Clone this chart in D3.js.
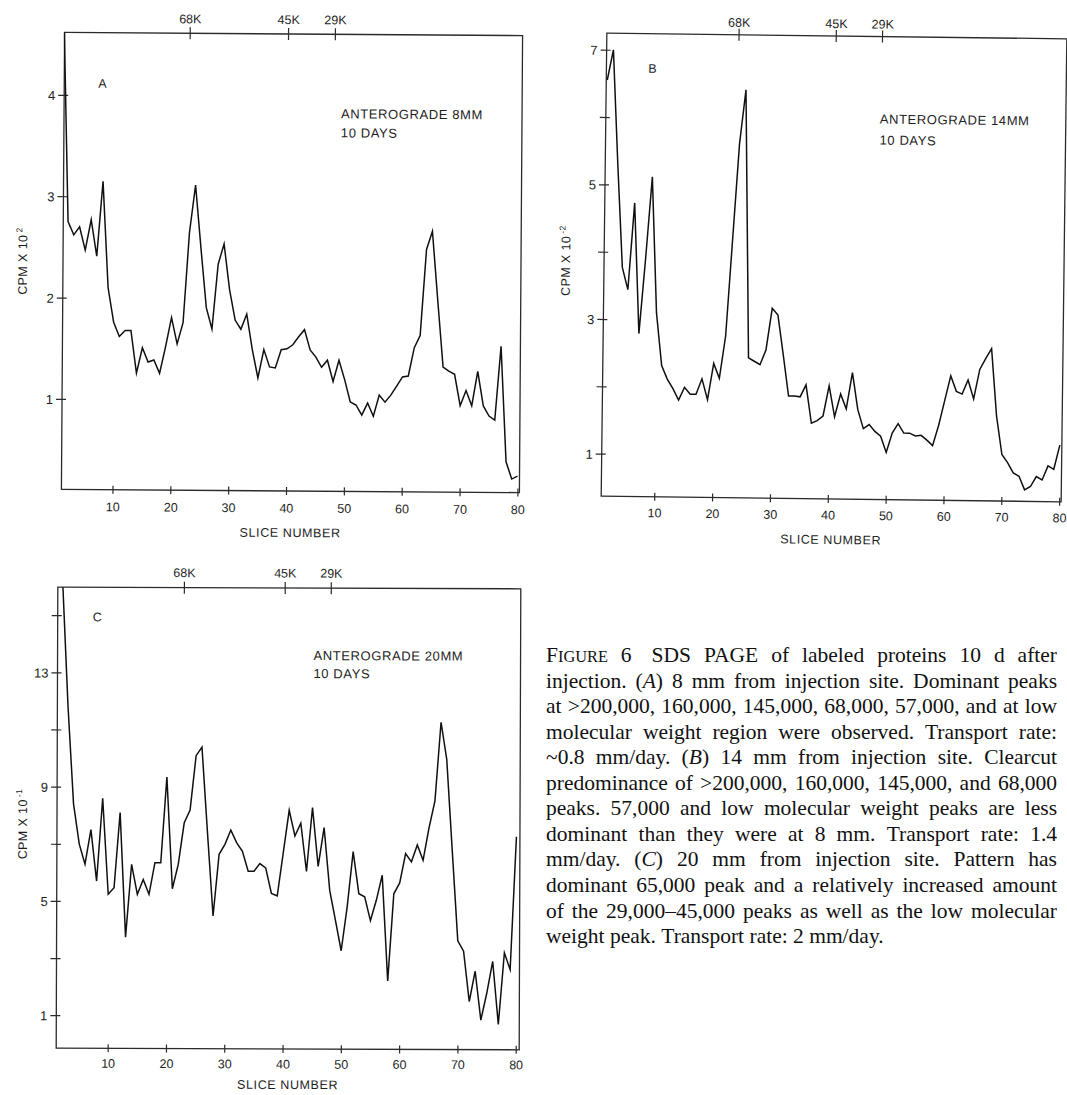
<!DOCTYPE html>
<html>
<head>
<meta charset="utf-8">
<script src="https://cdn.jsdelivr.net/npm/d3@7"></script>
<style>
  html, body { margin: 0; padding: 0; background: #ffffff; }
  svg { display: block; }
</style>
</head>
<body>
<svg id="fig" width="1067" height="1095"></svg>
<script>
// ---- data -------------------------------------------------------------
const sliceNumbers = [
  1, 2, 3, 4, 5, 6, 7, 8, 9, 10, 11, 12, 13, 14, 15, 16, 17, 18, 19, 20,
  21, 22, 23, 24, 25, 26, 27, 28, 29, 30, 31, 32, 33, 34, 35, 36, 37, 38, 39, 40,
  41, 42, 43, 44, 45, 46, 47, 48, 49, 50, 51, 52, 53, 54, 55, 56, 57, 58, 59, 60,
  61, 62, 63, 64, 65, 66, 67, 68, 69, 70, 71, 72, 73, 74, 75, 76, 77, 78, 79, 80
];

// (A) anterograde 8 mm, CPM x 10^2
const cpmA = [
  4.90, 2.75, 2.62, 2.70, 2.47, 2.77, 2.41, 3.15, 2.10, 1.76,
  1.62, 1.68, 1.68, 1.26, 1.51, 1.37, 1.39, 1.26, 1.52, 1.81,
  1.55, 1.76, 2.65, 3.12, 2.50, 1.91, 1.70, 2.34, 2.54, 2.09,
  1.79, 1.70, 1.85, 1.50, 1.22, 1.50, 1.33, 1.32, 1.50, 1.51,
  1.55, 1.63, 1.70, 1.50, 1.43, 1.33, 1.40, 1.19, 1.40, 1.21,
  0.99, 0.96, 0.86, 0.98, 0.85, 1.06, 0.99, 1.06, 1.15, 1.24,
  1.25, 1.53, 1.65, 2.50, 2.68, 2.00, 1.34, 1.30, 1.27, 0.96,
  1.11, 0.96, 1.30, 0.96, 0.86, 0.82, 1.55, 0.41, 0.24, 0.27
];

// (B) anterograde 14 mm
const cpmB = [
  6.55, 7.00, 5.30, 3.77, 3.44, 4.73, 2.79, 3.90, 5.12, 3.10,
  2.32, 2.12, 1.98, 1.81, 2.00, 1.90, 1.90, 2.13, 1.82, 2.36,
  2.14, 2.77, 4.20, 5.63, 6.43, 2.45, 2.40, 2.35, 2.57, 3.19,
  3.09, 2.50, 1.89, 1.89, 1.88, 2.06, 1.49, 1.53, 1.60, 2.05,
  1.59, 1.93, 1.71, 2.25, 1.70, 1.42, 1.48, 1.38, 1.31, 1.07,
  1.36, 1.50, 1.36, 1.36, 1.32, 1.33, 1.26, 1.18, 1.48, 1.85,
  2.22, 1.99, 1.95, 2.16, 1.88, 2.32, 2.48, 2.63, 1.63, 1.06,
  0.94, 0.79, 0.74, 0.54, 0.59, 0.74, 0.69, 0.90, 0.85, 1.21
];

// (C) anterograde 20 mm
const cpmC = [
  17.0, 16.2, 11.8, 8.40, 7.00, 6.29, 7.50, 5.70, 8.60, 5.24,
  5.47, 8.10, 3.74, 6.29, 5.24, 5.76, 5.24, 6.35, 6.35, 9.35,
  5.44, 6.29, 7.75, 8.20, 10.1, 10.4, 7.40, 4.49, 6.65, 7.00,
  7.50, 7.06, 6.76, 6.06, 6.06, 6.33, 6.18, 5.29, 5.20, 6.70,
  8.20, 7.30, 7.75, 6.06, 8.30, 6.24, 7.60, 5.40, 4.35, 3.29,
  4.82, 6.76, 5.29, 5.18, 4.35, 5.06, 5.94, 2.24, 5.29, 5.67,
  6.70, 6.41, 7.00, 6.47, 7.60, 8.55, 11.3, 10.0, 6.80, 3.65,
  3.29, 1.53, 2.59, 0.88, 1.82, 2.94, 0.73, 3.24, 2.65, 7.30
];

const sliceTicks = [10, 20, 30, 40, 50, 60, 70, 80];

// molecular-weight markers along the top edge (slice positions)
const markerLabels = ["68K", "45K", "29K"];
const markerSlicesA = [22.8, 39.8, 47.9];
const markerSlicesB = [23.6, 40.4, 48.4];
const markerSlicesC = [22.8, 40.1, 48.0];

const yTicksA = [1, 2, 3, 4];
const yLabelsA = ["1", "2", "3", "4"];
const yTicksB = [1, 2, 3, 4, 5, 6, 7];
const yLabelsB = ["1", "", "3", "", "5", "", "7"];
const yTicksC = [1, 3, 5, 7, 9, 11, 13, 15];
const yLabelsC = ["1", "", "5", "", "9", "", "13", ""];

const panelLetters = ["A", "B", "C"];
const conditionA = ["ANTEROGRADE 8MM", "10 DAYS"];
const conditionB = ["ANTEROGRADE 14MM", "10 DAYS"];
const conditionC = ["ANTEROGRADE 20MM", "10 DAYS"];
const yExponents = ["2", "-2", "-1"];
const xTitle = "SLICE NUMBER";

const captionLines = [
  "F^IGURE^ 6  SDS PAGE of labeled proteins 10 d after",
  "injection. (*A*) 8 mm from injection site. Dominant peaks",
  "at >200,000, 160,000, 145,000, 68,000, 57,000, and at low",
  "molecular weight region were observed. Transport rate:",
  "~0.8 mm/day. (*B*) 14 mm from injection site. Clearcut",
  "predominance of >200,000, 160,000, 145,000, and 68,000",
  "peaks. 57,000 and low molecular weight peaks are less",
  "dominant than they were at 8 mm. Transport rate: 1.4",
  "mm/day. (*C*) 20 mm from injection site. Pattern has",
  "dominant 65,000 peak and a relatively increased amount",
  "of the 29,000\u201345,000 peaks as well as the low molecular",
  "weight peak. Transport rate: 2 mm/day."
];

// ---- drawing ----------------------------------------------------------
const SANS = "'Liberation Sans', Arial, Helvetica, sans-serif";
const SERIF = "'Liberation Serif', 'Times New Roman', serif";
const TEXT_INK = "#1e1e1e";
const FRAME_INK = "#2b2b2b";
const LINE_INK = "#101010";

const svg = d3.select("#fig");

const panels = [
  {
    letter: panelLetters[0], values: cpmA, markers: markerSlicesA,
    yTicks: yTicksA, yLabels: yLabelsA, exp: yExponents[0], note: conditionA,
    frame: { l: 63, r: 521, t: 34, b: 491 }, xRange: [62, 519],
    yDomain: [1, 4], yRange: [400.5, 96.5], rot: 0.4,
    letterAt: [97, 89], noteAt: [340, 118], noteGap: 19,
    markerY: 24, tickLabelY: 512.5, titleY: 537, yTitleAt: [27, 263]
  },
  {
    letter: panelLetters[1], values: cpmB, markers: markerSlicesB,
    yTicks: yTicksB, yLabels: yLabelsB, exp: yExponents[1], note: conditionB,
    frame: { l: 604, r: 1064, t: 36, b: 499 }, xRange: [605, 1062],
    yDomain: [1, 7], yRange: [456.5, 52.5], rot: 0.7,
    letterAt: [646, 75], noteAt: [878, 123], noteGap: 21,
    markerY: 28, tickLabelY: 519.5, titleY: 544, yTitleAt: [570, 264]
  },
  {
    letter: panelLetters[2], values: cpmC, markers: markerSlicesC,
    yTicks: yTicksC, yLabels: yLabelsC, exp: yExponents[2], note: conditionC,
    frame: { l: 57, r: 520, t: 588, b: 1049 }, xRange: [56, 516.5],
    yDomain: [1, 15], yRange: [1016, 616], rot: 0.2,
    letterAt: [92, 622], noteAt: [313, 660], noteGap: 18,
    markerY: 577.5, tickLabelY: 1068.5, titleY: 1089, yTitleAt: [27, 825]
  }
];

panels.forEach((p, pi) => {
  const f = p.frame;
  const cx = (f.l + f.r) / 2, cy = (f.t + f.b) / 2;
  const g = svg.append("g").attr("transform", `rotate(${p.rot},${cx},${cy})`);

  const x = d3.scaleLinear().domain([1, 80]).range(p.xRange);
  const y = d3.scaleLinear().domain(p.yDomain).range(p.yRange);

  // plot frame
  g.append("rect")
    .attr("x", f.l).attr("y", f.t)
    .attr("width", f.r - f.l).attr("height", f.b - f.t)
    .attr("fill", "none").attr("stroke", FRAME_INK).attr("stroke-width", 1.3);

  // bottom axis: slice number
  const xa = g.append("g").attr("transform", `translate(0,${f.b})`)
    .call(d3.axisBottom(x).tickValues(sliceTicks).tickFormat(d3.format("d")));
  xa.select(".domain").remove();
  xa.selectAll(".tick line").attr("y1", -4).attr("y2", 4)
    .attr("stroke", FRAME_INK).attr("stroke-width", 1.2);
  xa.selectAll(".tick text").attr("y", p.tickLabelY - f.b).attr("dy", 0)
    .attr("fill", TEXT_INK).attr("font-family", SANS).attr("font-size", 12.5);

  // left axis: counts
  const ya = g.append("g").attr("transform", `translate(${f.l},0)`)
    .call(d3.axisLeft(y).tickValues(p.yTicks).tickFormat((d, i) => p.yLabels[i]));
  ya.select(".domain").remove();
  ya.selectAll(".tick line").attr("x1", -6).attr("x2", 4)
    .attr("stroke", FRAME_INK).attr("stroke-width", 1.2);
  ya.selectAll(".tick text").attr("x", -9).attr("dy", "0.36em")
    .attr("fill", TEXT_INK).attr("font-family", SANS).attr("font-size", 13);

  // top axis: molecular-weight markers
  const ta = g.append("g").attr("transform", `translate(0,${f.t})`)
    .call(d3.axisTop(x).tickValues(p.markers).tickFormat((d, i) => markerLabels[i]));
  ta.select(".domain").remove();
  ta.selectAll(".tick line").attr("y1", -6).attr("y2", 6)
    .attr("stroke", FRAME_INK).attr("stroke-width", 1.2);
  ta.selectAll(".tick text").attr("y", p.markerY - f.t).attr("dy", 0)
    .attr("fill", TEXT_INK).attr("font-family", SANS).attr("font-size", 12.5);

  // profile line, clipped to the frame
  const clipId = `clip-${pi}`;
  g.append("clipPath").attr("id", clipId)
    .append("rect").attr("x", f.l - 1).attr("y", f.t)
    .attr("width", f.r - f.l + 2).attr("height", f.b - f.t);
  const line = d3.line()
    .x((d, i) => x(sliceNumbers[i]))
    .y(d => y(d));
  g.append("path")
    .datum(p.values)
    .attr("clip-path", `url(#${clipId})`)
    .attr("d", line)
    .attr("fill", "none")
    .attr("stroke", LINE_INK)
    .attr("stroke-width", 1.5)
    .attr("stroke-linejoin", "miter")
    .attr("stroke-miterlimit", 6);

  // panel letter
  g.append("text").attr("x", p.letterAt[0]).attr("y", p.letterAt[1])
    .attr("font-family", SANS).attr("font-size", 12.5).attr("fill", TEXT_INK)
    .text(p.letter);

  // condition note
  p.note.forEach((t, i) => {
    g.append("text")
      .attr("x", p.noteAt[0]).attr("y", p.noteAt[1] + i * p.noteGap)
      .attr("font-family", SANS).attr("font-size", 13)
      .attr("letter-spacing", 0.6).attr("fill", TEXT_INK)
      .text(t);
  });

  // x title
  g.append("text")
    .attr("x", (f.l + f.r) / 2).attr("y", p.titleY)
    .attr("text-anchor", "middle")
    .attr("font-family", SANS).attr("font-size", 12.5)
    .attr("letter-spacing", 0.6).attr("fill", TEXT_INK)
    .text(xTitle);

  // y title with exponent
  const yt = g.append("text")
    .attr("transform", `translate(${p.yTitleAt[0]},${p.yTitleAt[1]}) rotate(-90)`)
    .attr("text-anchor", "middle")
    .attr("font-family", SANS).attr("font-size", 12.5)
    .attr("letter-spacing", 0.4).attr("fill", TEXT_INK);
  yt.append("tspan").text("CPM X 10");
  yt.append("tspan").attr("dy", -5).attr("dx", 2).attr("font-size", 8.5).text(p.exp);
});

// ---- figure caption (justified lines) ----------------------------------
const CAP_LEFT = 546, CAP_WIDTH = 511, CAP_FIRST = 662, CAP_STEP = 25.55, CAP_SIZE = 21.5;
const cap = svg.append("g")
  .attr("font-family", SERIF).attr("font-size", CAP_SIZE).attr("fill", "#111");

function parseWord(w) {
  // *x* = italic, ^x^ = small capitals
  const segs = [];
  const re = /(\*[^*]+\*|\^[^^]+\^)/;
  w.split(re).filter(s => s.length).forEach(s => {
    if (s[0] === "*") segs.push({ t: s.slice(1, -1), style: "it" });
    else if (s[0] === "^") segs.push({ t: s.slice(1, -1), style: "sc" });
    else segs.push({ t: s, style: "" });
  });
  return segs;
}

captionLines.forEach((ln, li) => {
  const words = [];
  ln.split(" ").forEach(tok => {
    if (tok === "") { if (words.length) words[words.length - 1].extra += 7; }
    else words.push({ segs: parseWord(tok), extra: 0 });
  });
  const baseY = CAP_FIRST + li * CAP_STEP;
  words.forEach(w => {
    w.node = cap.append("text").attr("y", baseY);
    w.segs.forEach(s => {
      const ts = w.node.append("tspan").text(s.t);
      if (s.style === "it") ts.attr("font-style", "italic");
      if (s.style === "sc") ts.attr("font-size", CAP_SIZE * 0.76);
    });
    w.width = w.node.node().getComputedTextLength();
  });
  const isLast = li === captionLines.length - 1;
  const used = d3.sum(words, w => w.width + w.extra);
  const natural = CAP_SIZE * 0.25;
  let gap = words.length > 1 ? (CAP_WIDTH - used) / (words.length - 1) : 0;
  if (isLast || gap < 2) gap = isLast ? natural : Math.max(gap, 2);
  let cx = CAP_LEFT;
  words.forEach(w => {
    w.node.attr("x", cx);
    cx += w.width + w.extra + gap;
  });
});
</script>
</body>
</html>
